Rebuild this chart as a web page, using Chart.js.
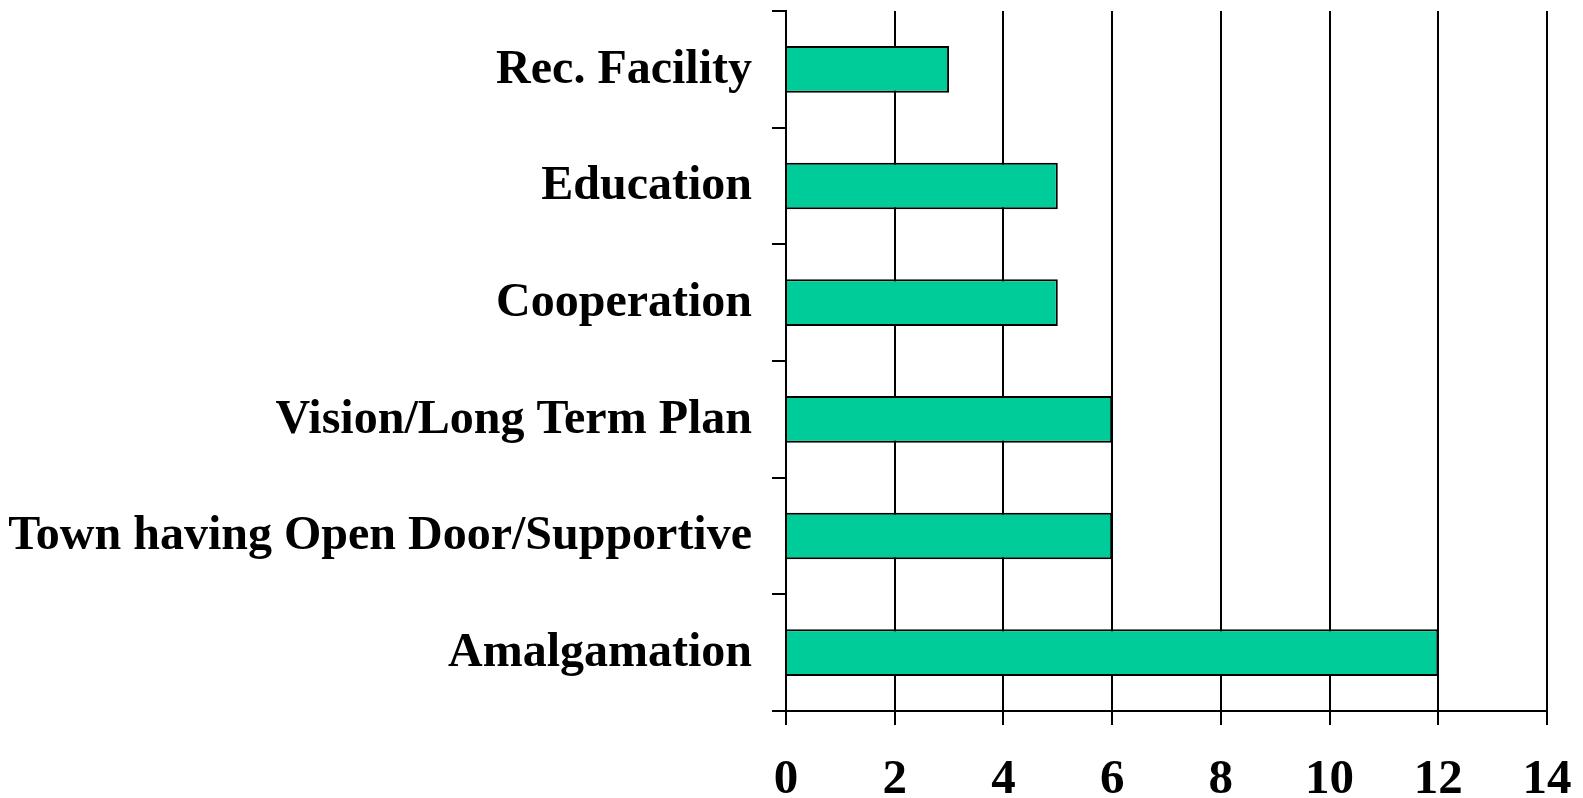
<!DOCTYPE html>
<html>
<head>
<meta charset="utf-8">
<script src="https://cdn.jsdelivr.net/npm/chart.js@4"></script>
<style>
html,body{margin:0;padding:0;background:#fff;}
#wrap{width:1583px;height:798px;}
</style>
</head>
<body>
<div id="wrap"><canvas id="c"></canvas></div>
<script>
/* ================= DATA ================= */
const categories=["Rec. Facility","Education","Cooperation","Vision/Long Term Plan","Town having Open Door/Supportive","Amalgamation"];
const counts=[3,5,5,6,6,12];
const xTicks=[0,2,4,6,8,10,12,14];

/* ================= CHART ================= */
const FAMILY="'Liberation Serif','Times New Roman',serif";

new Chart(document.getElementById("c"),{
type:"bar",
data:{
labels:categories,
datasets:[{
data:counts,
backgroundColor:"#00CC99",
borderColor:"#000",
borderWidth:2,
borderSkipped:"start",
categoryPercentage:0.4,
barPercentage:1
}]
},
options:{
indexAxis:"y",
responsive:true,
maintainAspectRatio:false,
animation:false,
layout:{padding:{top:11,right:36,left:0,bottom:0}},
plugins:{legend:{display:false},tooltip:{enabled:false}},
scales:{
x:{
min:xTicks[0],max:xTicks[xTicks.length-1],
afterBuildTicks:s=>{s.ticks=xTicks.map(v=>({value:v}));},
grid:{color:"#000",lineWidth:2,tickLength:14,drawTicks:true},
border:{color:"#000",width:2},
ticks:{color:"#000",font:{family:FAMILY,size:49,weight:"bold"},padding:26,maxRotation:0},
afterFit:s=>{s.height=87;s.paddingLeft=0;s.paddingRight=0;}
},
y:{
z:1,
grid:{color:"#000",lineWidth:2,tickLength:14,drawOnChartArea:false,offset:true},
border:{color:"#000",width:2},
ticks:{color:"#000",font:{family:FAMILY,size:48,weight:"bold"},padding:20,labelOffset:1},
afterFit:s=>{s.width=786;s.paddingTop=0;s.paddingBottom=0;}
}
}
}
});
</script>
</body>
</html>
